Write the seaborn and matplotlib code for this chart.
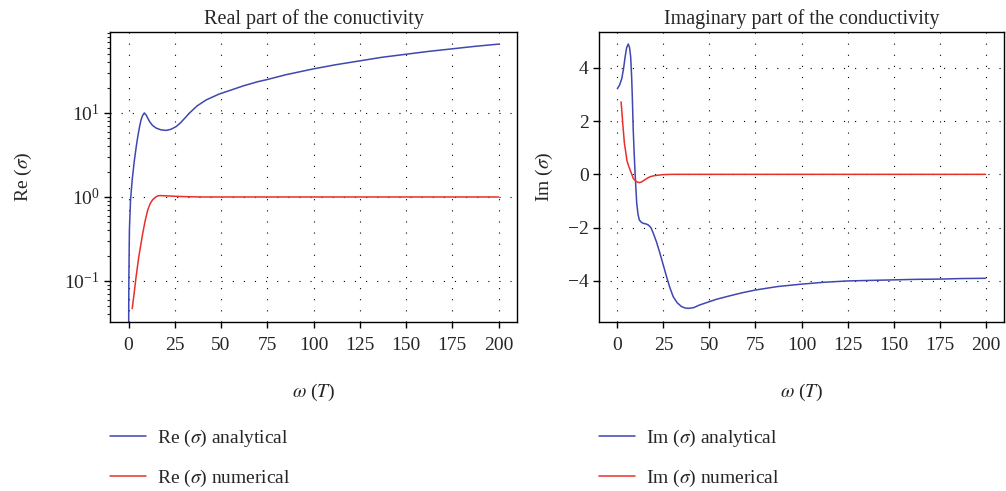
import numpy as np
import pandas as pd
import matplotlib
matplotlib.use("Agg")
import matplotlib.pyplot as plt
import matplotlib.ticker as mticker
import seaborn as sns

# Re(sigma) analytical
re_an_w = [0, 0.2, 0.5, 1.1, 2.0, 3.2, 4.2, 5.0, 6.0, 6.8, 7.7, 8.6, 9.6, 10.5, 11.4, 13, 15,
           17.5, 20.4, 23, 25.8, 28, 30.5, 33, 37, 42, 49, 55, 62, 70, 75, 85, 100, 112, 125,
           137, 150, 162, 175, 187, 200]
re_an = [0.01, 0.11, 0.41, 0.92, 1.6, 2.76, 4.0, 5.2, 6.9, 8.3, 9.4, 10.0, 9.4, 8.6, 7.9, 7.1,
         6.6, 6.3, 6.2, 6.4, 6.9, 7.6, 8.7, 10.0, 12.1, 14.3, 16.8, 18.6, 21.0, 23.6, 25, 28.5,
         33.5, 37.5, 41.7, 46, 50, 54, 58, 62, 66]

# Re(sigma) numerical
re_num_w = [2.0, 3, 4.1, 5.5, 7.7, 9, 10.4, 11.8, 13.1, 14.5, 15.8, 17.2, 18.5, 21, 25, 30,
            40, 50, 75, 100, 125, 150, 175, 200]
re_num = [0.047, 0.07, 0.112, 0.19, 0.37, 0.52, 0.70, 0.84, 0.93, 0.99, 1.03, 1.04, 1.035,
          1.03, 1.02, 1.01, 1.0, 1.0, 1.0, 1.0, 1.0, 1.0, 1.0, 1.0]

# Im(sigma) analytical
im_an_w = [0, 1.2, 2.4, 3.3, 4.2, 5.0, 5.9, 6.6, 7.2, 7.7, 8.1, 8.6, 9.1, 9.6, 10.1, 10.5,
           11.2, 11.9, 13, 14.1, 15.5, 16.8, 18.2, 19.5, 21.3, 23.1, 24.9, 26.7, 28.5, 30.3,
           32.5, 34.8, 36.6, 38.4, 41.5, 44.7, 49, 53.7, 60.9, 68, 75, 87, 100, 112, 125, 137,
           150, 162, 175, 187, 200]
im_an = [3.22, 3.35, 3.6, 3.95, 4.41, 4.75, 4.89, 4.75, 4.41, 3.7, 2.91, 1.66, 0.8, 0.04,
         -0.6, -1.09, -1.5, -1.71, -1.8, -1.84, -1.86, -1.9, -2.0, -2.21, -2.55, -2.96, -3.4,
         -3.84, -4.25, -4.59, -4.82, -4.96, -5.01, -5.03, -5.0, -4.9, -4.8, -4.69, -4.56,
         -4.44, -4.34, -4.21, -4.12, -4.05, -4.0, -3.98, -3.96, -3.94, -3.93, -3.91, -3.9]

# Im(sigma) numerical
im_num_w = [2.0, 2.5, 2.9, 3.8, 4.5, 5.1, 6.0, 6.9, 7.7, 8.6, 9.5, 10.5, 11.2, 11.9, 13, 14.1,
            15.9, 17.7, 20, 22.2, 25, 30, 40, 50, 100, 150, 200]
im_num = [2.72, 2.3, 1.91, 1.16, 0.85, 0.54, 0.33, 0.16, 0.02, -0.15, -0.22, -0.28, -0.30,
          -0.31, -0.29, -0.24, -0.16, -0.09, -0.05, -0.03, -0.01, 0, 0, 0, 0, 0, 0]

x_ticks = [0, 25, 50, 75, 100, 125, 150, 175, 200]
blue = "#3f47b0"
red = "#e8302a"

sns.set_theme(style="ticks")
plt.rcParams["font.family"] = ["Liberation Serif", "DejaVu Serif"]
plt.rcParams["mathtext.fontset"] = "stix"
plt.rcParams["font.size"] = 14

fig = plt.figure(figsize=(10.06, 4.91), dpi=100)
ax1 = fig.add_axes([110 / 1006, 1 - 322 / 491, 407 / 1006, 290 / 491])
ax2 = fig.add_axes([599 / 1006, 1 - 322 / 491, 405 / 1006, 290 / 491])

sns.lineplot(x=re_an_w, y=re_an, ax=ax1, color=blue, lw=1.1, label=r"Re ($\sigma$) analytical")
sns.lineplot(x=re_num_w, y=re_num, ax=ax1, color=red, lw=1.1, label=r"Re ($\sigma$) numerical")
sns.lineplot(x=im_an_w, y=im_an, ax=ax2, color=blue, lw=1.1, label=r"Im ($\sigma$) analytical")
sns.lineplot(x=im_num_w, y=im_num, ax=ax2, color=red, lw=1.1, label=r"Im ($\sigma$) numerical")

ax1.set_yscale("log")
ax1.set_ylim(0.0325, 92)
ax1.yaxis.set_major_locator(mticker.LogLocator(base=10, numticks=10))
ax1.yaxis.set_minor_locator(mticker.LogLocator(base=10, subs=np.arange(2, 10), numticks=20))
ax1.yaxis.set_minor_formatter(mticker.NullFormatter())
ax2.set_ylim(-5.54, 5.34)
ax2.set_yticks([-4, -2, 0, 2, 4])

for ax, title, ylab, ypad in [(ax1, "Real part of the conuctivity", r"Re ($\sigma$)", 22),
                              (ax2, "Imaginary part of the conductivity", r"Im ($\sigma$)", 9)]:
    ax.set_xlim(-10, 210)
    ax.set_xticks(x_ticks)
    ax.set_title(title, fontsize=14.5, pad=6)
    ax.set_xlabel(r"$\omega$ ($T$)", fontsize=14, labelpad=20)
    ax.set_ylabel(ylab, fontsize=14, labelpad=ypad)
    ax.tick_params(axis="both", which="major", direction="out", length=4, width=1,
                   labelsize=14, color="black")
    ax.tick_params(axis="x", which="major", pad=7)
    ax.tick_params(axis="y", which="minor", direction="out", length=2.5, width=0.8)
    ax.grid(True, which="major", color="black", linestyle=(0, (1, 9)), linewidth=0.8)
    for sp in ax.spines.values():
        sp.set_visible(True)
        sp.set_color("black")
        sp.set_linewidth(1)
    ax.legend(loc="upper left", bbox_to_anchor=(0, -0.365), frameon=False, fontsize=14,
              handlelength=1.85, handletextpad=0.55, labelspacing=0.95, borderaxespad=0,
              borderpad=0)

fig.savefig("out.png", dpi=100)
